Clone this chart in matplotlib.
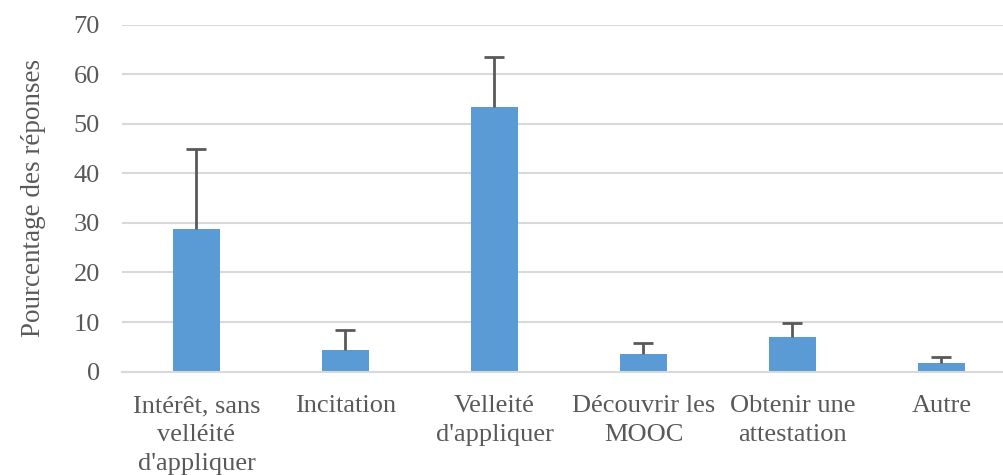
import matplotlib

matplotlib.use("Agg")
import matplotlib.pyplot as plt

categories = [
    "Intérêt, sans\nvelléité\nd'appliquer",
    "Incitation",
    "Velleité\nd'appliquer",
    "Découvrir les\nMOOC",
    "Obtenir une\nattestation",
    "Autre",
]
values = [28.7, 4.3, 53.3, 3.6, 6.9, 1.8]
errors = [16.2, 4.1, 10.2, 2.1, 3.0, 1.1]
yticks = [0, 10, 20, 30, 40, 50, 60, 70]

text_color = "#595959"
plt.rcParams["font.family"] = ["Liberation Serif", "DejaVu Serif"]

fig = plt.figure(figsize=(10.04, 4.75), dpi=100)
# axes run past the right edge of the figure, as in the cropped original
ax = fig.add_axes([122 / 1004, 0.2175, 894 / 1004, 0.7309])

x = list(range(len(categories)))
ax.bar(x, values, width=0.31, color="#5B9BD5", zorder=2)
_, caps, _ = ax.errorbar(x, values, yerr=[[0] * len(errors), errors], fmt="none",
                         ecolor="#595959", elinewidth=2, capsize=7, capthick=2, zorder=3)
caps[0].set_visible(False)  # only the upper whisker is shown

ax.set_xlim(-0.5, len(categories) - 0.5)
ax.set_ylim(0, 70)
ax.set_yticks(yticks)
ax.yaxis.grid(True, color="#D9D9D9", linewidth=1.5, zorder=0)
ax.set_axisbelow(True)
for side in ["top", "right", "left"]:
    ax.spines[side].set_visible(False)
ax.spines["bottom"].set_color("#D9D9D9")
ax.spines["bottom"].set_linewidth(1.5)
ax.tick_params(axis="both", length=0, labelsize=19, colors=text_color)
ax.tick_params(axis="y", pad=16)
ax.tick_params(axis="x", pad=17)
ax.set_xticks(x)
ax.set_xticklabels(categories, linespacing=1.4)
ax.set_ylabel("Pourcentage des réponses", fontsize=19.5, color=text_color, labelpad=20)

fig.savefig("out.png", dpi=100)
